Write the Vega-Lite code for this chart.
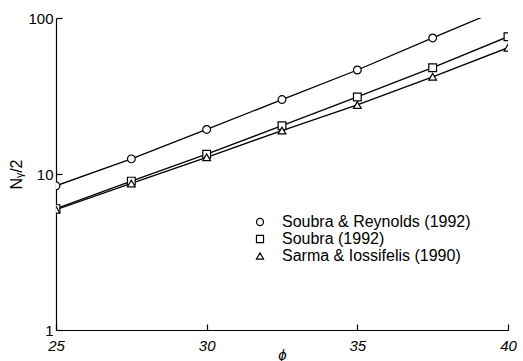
{
  "$schema": "https://vega.github.io/schema/vega-lite/v6.json",
  "width": 452,
  "height": 312,
  "autosize": {"type": "none"},
  "padding": {"left": 56, "top": 18, "right": 15, "bottom": 31},
  "background": "white",
  "config": {
    "view": {"stroke": null},
    "font": "Liberation Sans",
    "axis": {
      "grid": false,
      "domainColor": "black",
      "tickColor": "black",
      "labelColor": "black",
      "titleColor": "black",
      "labelFont": "Liberation Sans",
      "titleFont": "Liberation Sans",
      "labelFontSize": 15,
      "titleFontSize": 15,
      "titleFontWeight": "normal",
      "domainWidth": 1.2,
      "tickWidth": 1.2,
      "tickSize": -6
    },
    "legend": {
      "labelFont": "Liberation Sans",
      "labelFontSize": 16,
      "labelColor": "black"
    }
  },
  "data": {
    "values": [
      {"phi": 25, "N": 8.4, "source": "Soubra & Reynolds (1992)"},
      {"phi": 27.5, "N": 12.5, "source": "Soubra & Reynolds (1992)"},
      {"phi": 30, "N": 19.3, "source": "Soubra & Reynolds (1992)"},
      {"phi": 32.5, "N": 30, "source": "Soubra & Reynolds (1992)"},
      {"phi": 35, "N": 46.4, "source": "Soubra & Reynolds (1992)"},
      {"phi": 37.5, "N": 74.5, "source": "Soubra & Reynolds (1992)"},
      {"phi": 40, "N": 119, "source": "Soubra & Reynolds (1992)"},
      {"phi": 25, "N": 6.0, "source": "Soubra (1992)"},
      {"phi": 27.5, "N": 9.0, "source": "Soubra (1992)"},
      {"phi": 30, "N": 13.4, "source": "Soubra (1992)"},
      {"phi": 32.5, "N": 20.4, "source": "Soubra (1992)"},
      {"phi": 35, "N": 31.2, "source": "Soubra (1992)"},
      {"phi": 37.5, "N": 48, "source": "Soubra (1992)"},
      {"phi": 40, "N": 75.9, "source": "Soubra (1992)"},
      {"phi": 25, "N": 5.9, "source": "Sarma & Iossifelis (1990)"},
      {"phi": 27.5, "N": 8.7, "source": "Sarma & Iossifelis (1990)"},
      {"phi": 30, "N": 12.8, "source": "Sarma & Iossifelis (1990)"},
      {"phi": 32.5, "N": 19.0, "source": "Sarma & Iossifelis (1990)"},
      {"phi": 35, "N": 27.7, "source": "Sarma & Iossifelis (1990)"},
      {"phi": 37.5, "N": 42, "source": "Sarma & Iossifelis (1990)"},
      {"phi": 40, "N": 64.5, "source": "Sarma & Iossifelis (1990)"}
    ]
  },
  "encoding": {
    "x": {
      "field": "phi",
      "type": "quantitative",
      "scale": {"domain": [25, 40], "nice": false, "zero": false},
      "axis": {"values": [25, 30, 35, 40], "title": "ϕ", "titleFontStyle": "italic", "labelFontStyle": "italic", "labelPadding": 14, "titlePadding": -6, "labelFlush": false}
    },
    "y": {
      "field": "N",
      "type": "quantitative",
      "scale": {"type": "log", "domain": [1, 100], "nice": false},
      "axis": {"values": [1, 10, 100], "format": "d", "title": "Nᵧ/2", "titleFontSize": 16, "labelPadding": 9, "titlePadding": 3, "labelFlush": false}
    }
  },
  "layer": [
    {
      "mark": {"type": "line", "color": "black", "strokeWidth": 1.3, "clip": true},
      "encoding": {"detail": {"field": "source"}}
    },
    {
      "mark": {"type": "point", "filled": false, "fill": "white", "color": "black", "strokeWidth": 1.2, "size": 60, "opacity": 1, "clip": true},
      "encoding": {
        "shape": {
          "field": "source",
          "type": "nominal",
          "scale": {
            "domain": ["Soubra & Reynolds (1992)", "Soubra (1992)", "Sarma & Iossifelis (1990)"],
            "range": ["circle", "square", "triangle-up"]
          },
          "legend": {
            "title": null,
            "orient": "none",
            "legendX": 196,
            "legendY": 196,
            "rowPadding": 1,
            "labelOffset": 14,
            "labelLimit": 0,
            "symbolSize": 50,
            "symbolStrokeWidth": 1.2
          }
        }
      }
    }
  ]
}
